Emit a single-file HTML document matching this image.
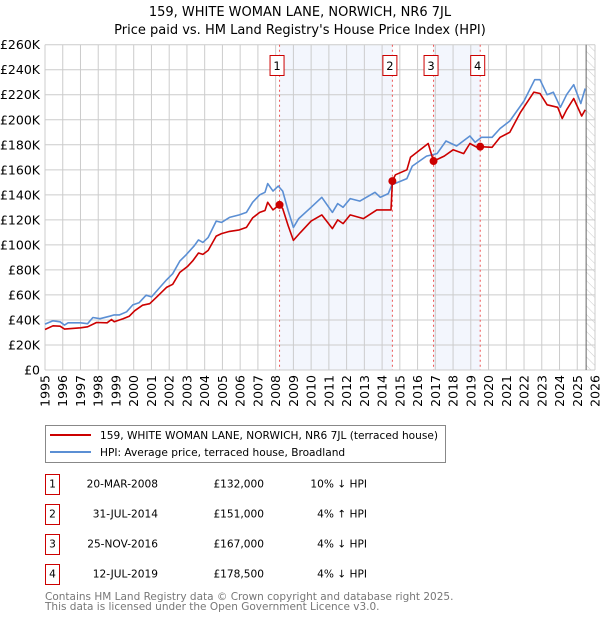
<!DOCTYPE html>
<html><head><meta charset="utf-8"><style>
body{margin:0;background:#fff;font-family:"Liberation Sans","DejaVu Sans",sans-serif;}
svg text{font-family:"DejaVu Sans","Liberation Sans",sans-serif;}
</style></head><body>
<svg id="chart" width="600" height="620" xmlns="http://www.w3.org/2000/svg">
<defs><pattern id="hatch" width="6" height="6" patternUnits="userSpaceOnUse" patternTransform="rotate(-45)"><line x1="0" y1="0" x2="0" y2="6" stroke="#ccc" stroke-width="1"/></pattern></defs>
<text x="300" y="16" text-anchor="middle" font-size="13">159, WHITE WOMAN LANE, NORWICH, NR6 7JL</text>
<text x="300" y="34" text-anchor="middle" font-size="13">Price paid vs. HM Land Registry's House Price Index (HPI)</text>
<g id="plot"></g>
<g>
<rect x="45.5" y="425.5" width="400" height="37" fill="#fff" stroke="#888"/>
<line x1="50" y1="435" x2="91" y2="435" stroke="#cc0000" stroke-width="2"/>
<text x="100" y="439" font-size="10.6">159, WHITE WOMAN LANE, NORWICH, NR6 7JL (terraced house)</text>
<line x1="50" y1="452" x2="91" y2="452" stroke="#5b8fd4" stroke-width="2"/>
<text x="100" y="456" font-size="10.6">HPI: Average price, terraced house, Broadland</text>
</g>
<g id="table" font-size="10.6"></g>
<text x="45" y="600" font-size="10.5" fill="#777">Contains HM Land Registry data © Crown copyright and database right 2025.</text>
<text x="45" y="610" font-size="10.5" fill="#777">This data is licensed under the Open Government Licence v3.0.</text>
</svg>
<script>
const hpiYears=[1995.0,1995.45,1995.85,1996.1,1996.3,1997.0,1997.4,1997.7,1998.1,1998.65,1998.9,1999.2,1999.6,1999.95,2000.3,2000.7,2001.0,2001.5,2001.85,2002.2,2002.6,2002.95,2003.4,2003.65,2003.9,2004.2,2004.65,2004.95,2005.4,2005.95,2006.35,2006.7,2007.1,2007.4,2007.55,2007.85,2008.15,2008.4,2008.7,2009.0,2009.3,2010.0,2010.6,2011.2,2011.5,2011.8,2012.2,2012.75,2013.6,2013.9,2014.35,2014.55,2015.4,2015.7,2016.5,2017.1,2017.6,2018.2,2018.95,2019.25,2019.6,2020.2,2020.65,2021.2,2021.6,2022.0,2022.6,2022.9,2023.3,2023.65,2024.05,2024.4,2024.8,2025.2,2025.45];
const hpiValues=[36.7,39.3,38.5,35.9,37.7,37.7,37,42,41,43,44,44,46.5,52,53.7,59.8,58.4,66.4,72,77,87,92,99,104,102,106,119,118,122,124,126,134,140,142,149,143,147,143,127.5,114,121,130,138,126,133,130,137,135,142,138,141,148,153,163,171,173,183,179,187,182,186,186,193,199,207,215,232,232,220,222,210,220,228,213,225];
const propYears=[1995.0,1995.45,1995.85,1996.1,1997.0,1997.4,1997.9,1998.5,1998.75,1998.9,1999.4,1999.75,2000.05,2000.5,2000.9,2001.3,2001.85,2002.2,2002.6,2003.05,2003.35,2003.65,2003.9,2004.2,2004.65,2004.95,2005.4,2005.95,2006.35,2006.7,2007.1,2007.4,2007.55,2007.85,2008.22,2008.4,2008.7,2009.0,2009.4,2010.0,2010.6,2011.2,2011.5,2011.8,2012.2,2012.95,2013.7,2014.5,2014.58,2014.75,2015.4,2015.6,2016.6,2016.9,2017.5,2018.0,2018.6,2018.95,2019.35,2019.53,2020.2,2020.65,2021.2,2021.8,2022.55,2022.9,2023.3,2023.9,2024.15,2024.4,2024.8,2025.25,2025.45];
const propValues=[32.4,35.3,35,32.7,33.7,34.5,38,37.7,40.4,38.5,41,43,47.3,51.8,53,58.4,66,68.5,78,83,87.6,93.5,92.4,95.6,107,109,110.8,112,114,121.6,126,127.5,134,128,132,129,115.5,103.6,110,119,124,113,120,117,124,121,128,128,151,156,160,170,181,167,171,176,173,181,178,178.5,178,186,190,206,222,221,212,210,201,208,217,203,208];
const saleLabels=["1","2","3","4"];
const saleYears=[2008.22,2014.58,2016.9,2019.53];
const salePrices=[132,151,167,178.5];
const saleDates=["20-MAR-2008","31-JUL-2014","25-NOV-2016","12-JUL-2019"];
const salePriceText=["£132,000","£151,000","£167,000","£178,500"];
const saleHpiText=["10% ↓ HPI","4% ↑ HPI","4% ↓ HPI","4% ↓ HPI"];
const yTicks=[0,20,40,60,80,100,120,140,160,180,200,220,240,260];
const xTicks=[];for(let y=1995;y<=2026;y++)xTicks.push(y);

const NS="http://www.w3.org/2000/svg";
const X0=45,X1=595,Y0=370,Y1=44.7;
const xs=y=>X0+(y-1995)/31*(X1-X0);
const ys=v=>Y0-v/260*(Y0-Y1);
const plot=document.getElementById('plot');
function mk(tag,attrs,parent){const e=document.createElementNS(NS,tag);for(const k in attrs)e.setAttribute(k,attrs[k]);(parent||plot).appendChild(e);return e;}
for(let i=0;i<saleYears.length;i+=2){
 const b=mk('rect',{x:xs(saleYears[i]),y:Y1,width:xs(saleYears[i+1])-xs(saleYears[i]),height:Y0-Y1,fill:'#f3f6fd'});
 
 
}
const h=mk('rect',{x:xs(2025.5),y:Y1,width:X1-xs(2025.5),height:Y0-Y1,fill:'url(#hatch)'});


yTicks.forEach(v=>{
 mk('line',{x1:X0,x2:X1,y1:ys(v),y2:ys(v),stroke:'#cccccc','stroke-width':1});
 const t=mk('text',{x:40,y:ys(v)+4.5,'text-anchor':'end','font-size':12.5});t.textContent='£'+(v===0?'0':v+'K');
 
 
});
xTicks.forEach(y=>{
 mk('line',{x1:xs(y),x2:xs(y),y1:Y1,y2:Y0,stroke:'#cccccc','stroke-width':1});
 const t=mk('text',{x:0,y:0,'text-anchor':'end','font-size':12.5,transform:`translate(${xs(y)+4.5},375) rotate(-90)`});t.textContent=y;
 
 
});
mk('line',{x1:xs(2025.5),x2:xs(2025.5),y1:Y1,y2:Y0,stroke:'#666','stroke-width':1});
saleYears.forEach(y=>{
 const l=mk('line',{x1:xs(y),x2:xs(y),y1:Y1,y2:Y0,stroke:'#e55','stroke-width':1,'stroke-dasharray':'2,3'});
 
 
});
function line(xa,va,color,name){
 const d=xa.map((x,i)=>(i?'L':'M')+xs(x).toFixed(1)+','+ys(va[i]).toFixed(1)).join('');
 const p=mk('path',{d:d,fill:'none',stroke:color,'stroke-width':1.6,'stroke-linejoin':'round'});
 
 
}
line(hpiYears,hpiValues,'#5b8fd4','hpi-line');
line(propYears,propValues,'#cc0000','property-price-line');
saleYears.forEach((y,i)=>{
 const c=mk('circle',{cx:xs(y),cy:ys(salePrices[i]),r:4,fill:'#cc0000'});
 
 
 const g=mk('g',{});
 
 
 mk('rect',{x:xs(y)-9.5,y:55.5,width:14,height:20,fill:'#fff',stroke:'#cc0000'},g);
 const t=mk('text',{x:xs(y)-2.5,y:70,'text-anchor':'middle','font-size':11.5},g);t.textContent=saleLabels[i];
});
const tb=document.getElementById('table');
saleYears.forEach((y,i)=>{
 const ry=483+i*30;
 const g=mk('g',{},tb);
 
 
 mk('rect',{x:45.5,y:ry-8.5,width:14,height:20,fill:'#fff',stroke:'#cc0000'},g);
 mk('text',{x:52.5,y:ry+4.5,'text-anchor':'middle'},g).textContent=saleLabels[i];
 mk('text',{x:158,y:ry+4.5,'text-anchor':'end'},g).textContent=saleDates[i];
 mk('text',{x:264,y:ry+4.5,'text-anchor':'end'},g).textContent=salePriceText[i];
 mk('text',{x:367,y:ry+4.5,'text-anchor':'end'},g).textContent=saleHpiText[i];
});
</script>
</body></html>
